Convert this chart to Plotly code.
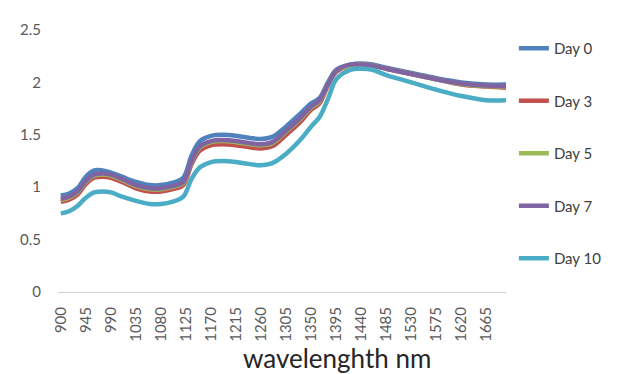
import plotly.graph_objects as go

wavelength = [900, 915, 930, 945, 960, 975, 990, 1010, 1035, 1060, 1080, 1100, 1120, 1135,
              1150, 1170, 1190, 1215, 1240, 1260, 1280, 1305, 1330, 1350, 1365, 1380, 1395,
              1420, 1440, 1460, 1485, 1530, 1575, 1620, 1665, 1700]

day0 = [0.92, 0.94, 0.99, 1.10, 1.16, 1.16, 1.14, 1.10, 1.05, 1.02, 1.02, 1.04, 1.09, 1.30,
        1.44, 1.49, 1.50, 1.49, 1.47, 1.46, 1.48, 1.58, 1.70, 1.80, 1.85, 2.00, 2.12,
        2.17, 2.18, 2.17, 2.14, 2.09, 2.04, 2.00, 1.98, 1.98]
day3 = [0.86, 0.88, 0.93, 1.03, 1.09, 1.10, 1.09, 1.05, 0.99, 0.96, 0.96, 0.98, 1.02, 1.22,
        1.35, 1.40, 1.41, 1.40, 1.38, 1.37, 1.39, 1.50, 1.62, 1.74, 1.80, 1.97, 2.10,
        2.16, 2.17, 2.16, 2.13, 2.08, 2.03, 1.98, 1.96, 1.95]
day5 = [0.88, 0.90, 0.95, 1.05, 1.11, 1.12, 1.11, 1.07, 1.01, 0.98, 0.98, 1.00, 1.04, 1.24,
        1.38, 1.43, 1.44, 1.43, 1.41, 1.40, 1.42, 1.53, 1.65, 1.76, 1.82, 1.98, 2.11,
        2.16, 2.17, 2.16, 2.13, 2.08, 2.03, 1.985, 1.965, 1.96]
day7 = [0.89, 0.91, 0.96, 1.06, 1.12, 1.13, 1.12, 1.08, 1.02, 0.99, 0.99, 1.01, 1.05, 1.25,
        1.39, 1.44, 1.45, 1.44, 1.42, 1.41, 1.43, 1.54, 1.66, 1.77, 1.83, 1.98, 2.11,
        2.17, 2.17, 2.16, 2.13, 2.08, 2.03, 1.99, 1.97, 1.965]
day10 = [0.75, 0.77, 0.82, 0.90, 0.95, 0.96, 0.95, 0.91, 0.87, 0.84, 0.84, 0.86, 0.91, 1.08,
         1.19, 1.24, 1.25, 1.24, 1.22, 1.21, 1.23, 1.32, 1.45, 1.58, 1.67, 1.84, 2.03,
         2.12, 2.13, 2.12, 2.07, 2.00, 1.93, 1.87, 1.83, 1.83]

series_names = ["Day 0", "Day 3", "Day 5", "Day 7", "Day 10"]
series_values = [day0, day3, day5, day7, day10]
colors = ["#4F81BD", "#C0504D", "#9BBB59", "#8064A2", "#4BACC6"]

x_ticks = list(range(900, 1666, 45))
y_ticks = [0, 0.5, 1, 1.5, 2, 2.5]
y_ticktext = ["0", "0.5", "1", "1.5", "2", "2.5"]

fig = go.Figure()
for name, vals, c in zip(series_names, series_values, colors):
    fig.add_trace(go.Scatter(x=wavelength, y=vals, mode="lines", name=name,
                             legendgroup=name,
                             line=dict(color=c, width=4.5, shape="spline", smoothing=1.0)))

font_family = "Lato, 'Open Sans', sans-serif"
# the page body has an 8px default margin, so the figure is drawn 8px smaller and shifted
fig.update_layout(
    width=611, height=366,
    margin=dict(l=46, r=110, t=18, b=82),
    paper_bgcolor="white", plot_bgcolor="white",
    font=dict(family=font_family, color="#595959", size=14),
    showlegend=True,
    legend=dict(x=1.0 + 8 / 455, xanchor="left", y=1.0 - 2 / 266, yanchor="top", yref="paper",
                font=dict(size=15, color="#404040"), tracegroupgap=30,
                itemwidth=30, bgcolor="rgba(0,0,0,0)"),
    xaxis=dict(range=[895, 1700], tickmode="array", tickvals=x_ticks,
               ticktext=[str(v) for v in x_ticks], tickangle=-90,
               showgrid=False, zeroline=False, showline=True, linecolor="#d0d0d0",
               linewidth=1, ticks="", tickfont=dict(size=15, color="#595959"),
               ticklabelstandoff=8),
    yaxis=dict(range=[0, 2.5], tickmode="array", tickvals=y_ticks, ticktext=y_ticktext,
               showgrid=False, zeroline=False, showline=False, ticks="",
               tickfont=dict(size=15, color="#595959"), ticklabelstandoff=16),
)

fig.add_annotation(text="wavelenghth nm", xref="paper", yref="paper",
                   x=(337 - 54) / 455, y=-67 / 266, xanchor="center", yanchor="middle",
                   showarrow=False, font=dict(size=26, color="#262626", family=font_family))

fig.write_html("out.html")
